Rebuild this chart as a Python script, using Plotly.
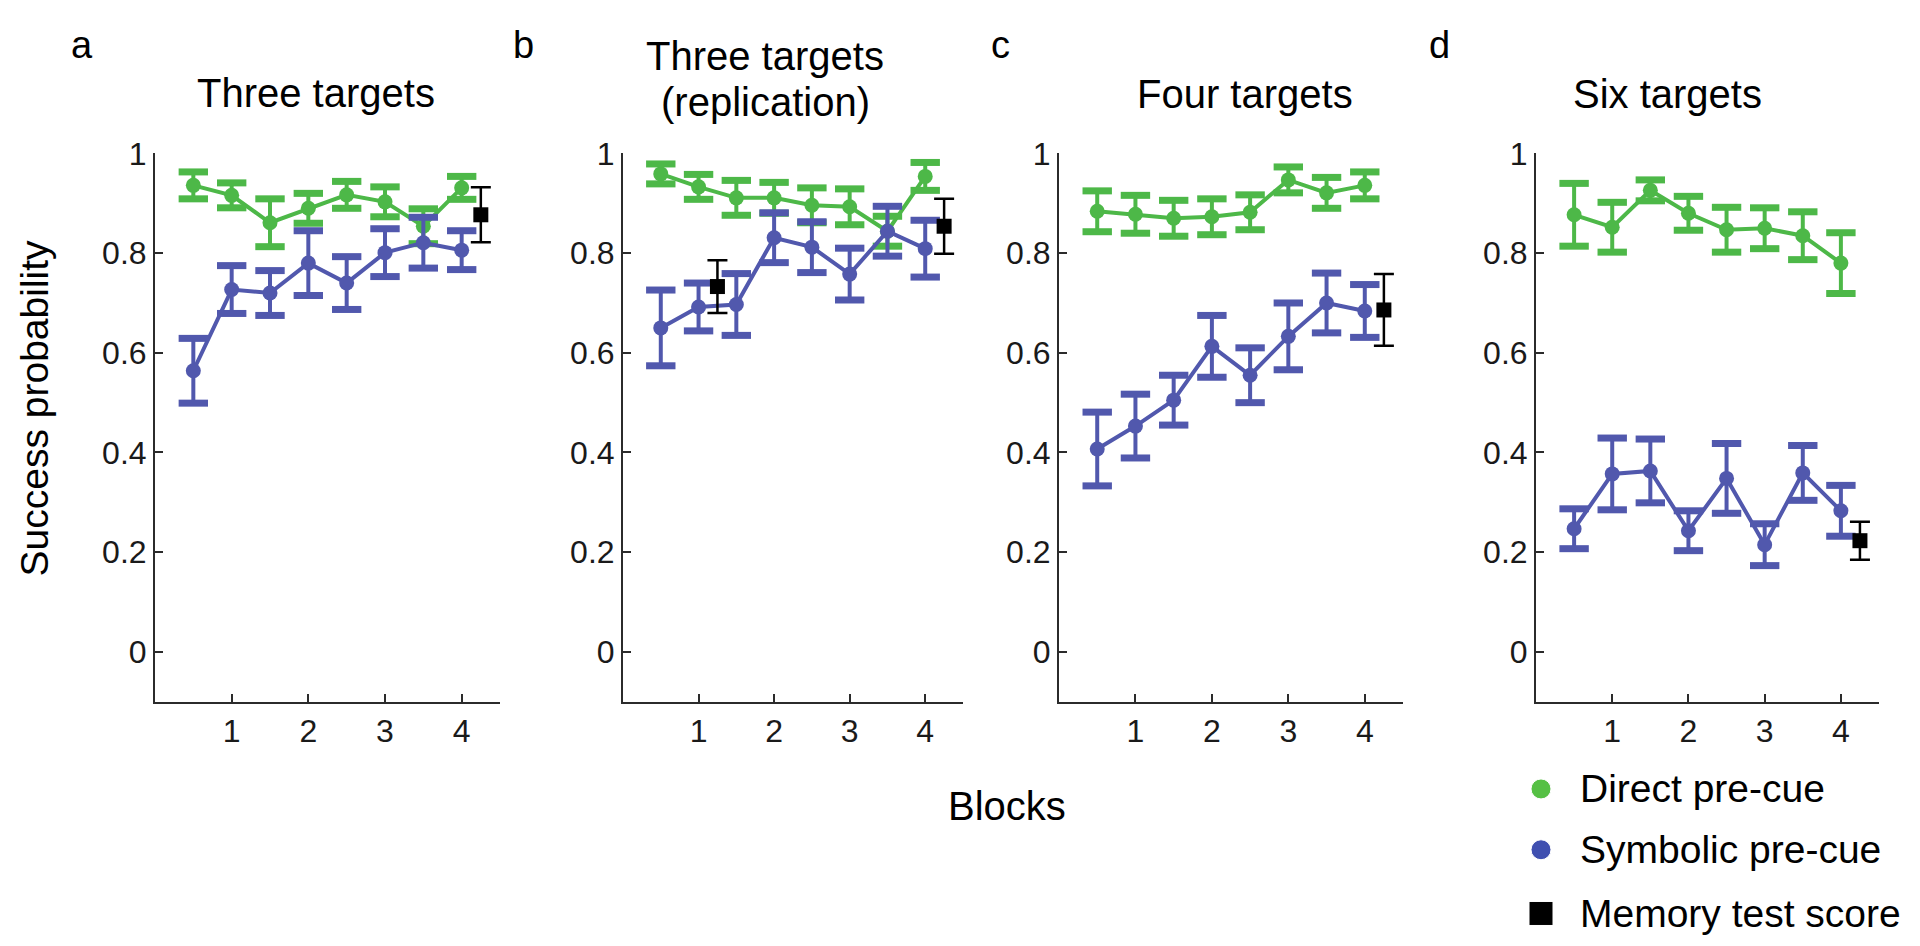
import plotly.graph_objects as go

# ---------------- data ----------------
blocks = [0.5, 1, 1.5, 2, 2.5, 3, 3.5, 4]
x_ticks = [1, 2, 3, 4]
y_ticks = [0, 0.2, 0.4, 0.6, 0.8, 1]
y_tick_text = ["0", "0.2", "0.4", "0.6", "0.8", "1"]

panel_letters = ["a", "b", "c", "d"]
panel_titles = ["Three targets", "Three targets<br>(replication)", "Four targets", "Six targets"]
legend_labels = ["Direct pre-cue", "Symbolic pre-cue", "Memory test score"]

direct_a = [0.936, 0.916, 0.861, 0.890, 0.917, 0.903, 0.854, 0.931]
direct_a_err = [0.027, 0.025, 0.048, 0.030, 0.027, 0.030, 0.035, 0.023]
symbolic_a = [0.564, 0.727, 0.720, 0.780, 0.740, 0.801, 0.821, 0.806]
symbolic_a_err = [0.065, 0.048, 0.045, 0.065, 0.053, 0.048, 0.051, 0.039]
memory_a_x = [4.25]
memory_a = [0.877]
memory_a_err = [0.055]

direct_b = [0.959, 0.933, 0.911, 0.911, 0.896, 0.893, 0.844, 0.954]
direct_b_err = [0.020, 0.025, 0.035, 0.031, 0.035, 0.036, 0.030, 0.028]
symbolic_b = [0.650, 0.692, 0.697, 0.831, 0.812, 0.758, 0.844, 0.809]
symbolic_b_err = [0.076, 0.048, 0.062, 0.050, 0.051, 0.052, 0.050, 0.057]
memory_b_x = [1.25, 4.25]
memory_b = [0.733, 0.854]
memory_b_err = [0.053, 0.055]

direct_c = [0.884, 0.878, 0.870, 0.873, 0.882, 0.947, 0.921, 0.936]
direct_c_err = [0.041, 0.038, 0.036, 0.036, 0.035, 0.026, 0.031, 0.027]
symbolic_c = [0.407, 0.453, 0.505, 0.613, 0.555, 0.633, 0.700, 0.684]
symbolic_c_err = [0.074, 0.064, 0.050, 0.062, 0.055, 0.067, 0.060, 0.053]
memory_c_x = [4.25]
memory_c = [0.686]
memory_c_err = [0.072]

direct_d = [0.877, 0.852, 0.926, 0.880, 0.847, 0.850, 0.835, 0.780]
direct_d_err = [0.063, 0.050, 0.021, 0.034, 0.045, 0.041, 0.048, 0.061]
symbolic_d = [0.247, 0.357, 0.363, 0.243, 0.348, 0.215, 0.359, 0.283]
symbolic_d_err = [0.040, 0.072, 0.064, 0.040, 0.070, 0.042, 0.055, 0.051]
memory_d_x = [4.25]
memory_d = [0.223]
memory_d_err = [0.038]

panels = [
    (direct_a, direct_a_err, symbolic_a, symbolic_a_err, memory_a_x, memory_a, memory_a_err),
    (direct_b, direct_b_err, symbolic_b, symbolic_b_err, memory_b_x, memory_b, memory_b_err),
    (direct_c, direct_c_err, symbolic_c, symbolic_c_err, memory_c_x, memory_c, memory_c_err),
    (direct_d, direct_d_err, symbolic_d, symbolic_d_err, memory_d_x, memory_d, memory_d_err),
]

# ---------------- style / layout ----------------
OFF = 8                      # default page body margin in the browser
W, H = 1920 - 2 * OFF, 946 - 2 * OFF
GREEN = "#4db848"
BLUE = "#5158ad"
LEG_GREEN = "#55c044"
LEG_BLUE = "#3f4fb0"
AXIS = "#2b2b2b"
FONT = "Liberation Sans"

# positions are given in window pixels
panel_x_px = [(155, 500), (623, 963), (1059, 1403), (1536, 1879)]
plot_top_px, plot_bot_px = 138, 697
title_x = [316, 765, 1245, 1667]
title_first_line_y = [76, 39, 77, 77]
title_line_gap = 46
letter_pos = [(82, 27), (523, 27), (1000, 27), (1439, 27)]
legend_marker_x = 1541
legend_text_x = 1578
legend_rows_y = [786, 848, 913]


def px_x(p):
    return (p - OFF) / W


def px_y(p):
    return 1 - (p - OFF) / H


fig = go.Figure()


def add_series(ax_idx, xs, ys, errs, color):
    xa = "x" if ax_idx == 1 else f"x{ax_idx}"
    ya = "y" if ax_idx == 1 else f"y{ax_idx}"
    fig.add_trace(go.Scatter(
        x=xs, y=ys, mode="lines+markers", xaxis=xa, yaxis=ya,
        line=dict(color=color, width=4),
        marker=dict(color=color, size=15, opacity=1),
        error_y=dict(type="data", array=errs, color=color, thickness=4, width=0),
        showlegend=False, cliponaxis=False, hoverinfo="x+y",
    ))
    caps_y = [v + e for v, e in zip(ys, errs)] + [v - e for v, e in zip(ys, errs)]
    fig.add_trace(go.Scatter(
        x=list(xs) + list(xs), y=caps_y, mode="markers", xaxis=xa, yaxis=ya,
        marker=dict(symbol="line-ew", size=21, opacity=1, line=dict(color=color, width=7)),
        showlegend=False, cliponaxis=False, hoverinfo="skip",
    ))


for i, (dv, de, sv, se, mx, mv, me) in enumerate(panels):
    k = i + 1
    add_series(k, blocks, dv, de, GREEN)
    add_series(k, blocks, sv, se, BLUE)
    xa = "x" if k == 1 else f"x{k}"
    ya = "y" if k == 1 else f"y{k}"
    fig.add_trace(go.Scatter(
        x=mx, y=mv, mode="markers", xaxis=xa, yaxis=ya,
        marker=dict(color="black", size=15, symbol="square", opacity=1),
        error_y=dict(type="data", array=me, color="black", thickness=2.5, width=10),
        showlegend=False, cliponaxis=False,
    ))
    x0, x1 = panel_x_px[i]
    axis_common = dict(showline=True, linecolor=AXIS, linewidth=2, showgrid=False,
                       zeroline=False, ticks="inside", ticklen=8, tickwidth=2,
                       tickcolor=AXIS, tickfont=dict(family=FONT, size=32, color="#1a1a1a"))
    fig.layout[f"xaxis{k if k > 1 else ''}"] = dict(
        domain=[px_x(x0), px_x(x1)], range=[0, 4.5], tickvals=x_ticks,
        anchor=ya, fixedrange=True, **axis_common)
    fig.layout[f"yaxis{k if k > 1 else ''}"] = dict(
        domain=[px_y(plot_bot_px), px_y(plot_top_px)], range=[-0.1, 1],
        tickvals=y_ticks, ticktext=y_tick_text, anchor=xa, fixedrange=True, **axis_common)

# legend drawn on a hidden full-figure axis (transparent background)
fig.add_trace(go.Scatter(
    x=[px_x(legend_marker_x)] * 3, y=[px_y(v) for v in legend_rows_y],
    mode="markers", xaxis="x5", yaxis="y5",
    marker=dict(color=[LEG_GREEN, LEG_BLUE, "black"], size=[20, 20, 24], opacity=1,
                symbol=["circle", "circle", "square"]),
    showlegend=False, hoverinfo="skip", cliponaxis=False,
))
fig.layout["xaxis5"] = dict(domain=[0, 1], range=[0, 1], visible=False, fixedrange=True, anchor="y5")
fig.layout["yaxis5"] = dict(domain=[0, 1], range=[0, 1], visible=False, fixedrange=True, anchor="x5")

annotations = []


def add_text(text, x, y, size, xanchor="center", angle=0):
    annotations.append(dict(text=text, x=px_x(x), y=px_y(y), xref="paper", yref="paper",
                            xanchor=xanchor, yanchor="middle", showarrow=False, textangle=angle,
                            font=dict(family=FONT, size=size, color="black")))


for lbl, yy in zip(legend_labels, legend_rows_y):
    add_text(lbl, legend_text_x, yy, 39, xanchor="left")
for t, tx, ty in zip(panel_titles, title_x, title_first_line_y):
    for j, line in enumerate(t.split("<br>")):
        add_text(line, tx, ty + j * title_line_gap, 40)
for t, (tx, ty) in zip(panel_letters, letter_pos):
    add_text(t, tx, ty, 38)
add_text("Blocks", 1007, 803, 40)
add_text("Success probability", 34, 398, 39, angle=-90)

fig.update_layout(
    width=W, height=H, margin=dict(l=0, r=0, t=0, b=0),
    paper_bgcolor="white", plot_bgcolor="rgba(0,0,0,0)",
    annotations=annotations, showlegend=False,
    font=dict(family=FONT),
)

fig.write_html("out.html", config={"displayModeBar": False})
